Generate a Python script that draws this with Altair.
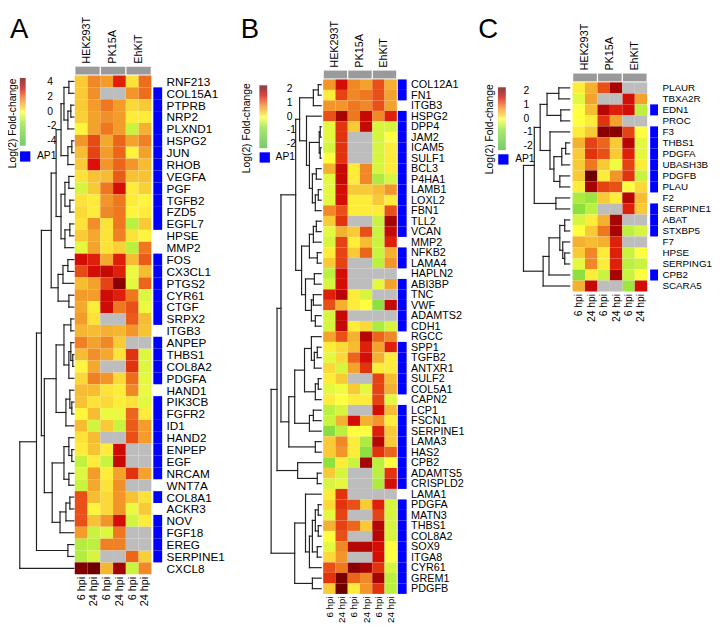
import json
import altair as alt
import pandas as pd

FONT = "Liberation Sans"
COLUMNS = ["6 hpi", "24 hpi", "6 hpi", "24 hpi", "6 hpi", "24 hpi"]
GROUPS = ["HEK293T", "PK15A", "EhKiT"]
LEGEND_TITLE = "Log(2) Fold-change"

# ---------------- Panel A ----------------
GENES_A = ["RNF213", "COL15A1", "PTPRB", "NRP2", "PLXND1", "HSPG2", "JUN", "RHOB", "VEGFA", "PGF",
           "TGFB2", "FZD5", "EGFL7", "HPSE", "MMP2", "FOS", "CX3CL1", "PTGS2", "CYR61", "CTGF",
           "SRPX2", "ITGB3", "ANPEP", "THBS1", "COL8A2", "PDGFA", "HAND1", "PIK3CB", "FGFR2", "ID1",
           "HAND2", "ENPEP", "EGF", "NRCAM", "WNT7A", "COL8A1", "ACKR3", "NOV", "FGF18", "EREG",
           "SERPINE1", "CXCL8"]
VALUES_A = [
    [0.6, 1.6, 1.3, 2.8, 0.3, 1.9], [0.6, 1.5, None, None, 1.4, 1.9], [0.6, 1.3, 1.8, 1.3, 0.4, 0.6],
    [0.5, 1.2, 1.5, 1.3, 0.2, 0.2], [0.1, 1.2, 1.8, 1.3, -0.8, 1.0], [1.4, 2.3, 1.1, 2.0, 1.2, 1.7],
    [0.8, 2.4, 1.3, 2.0, 0.1, 1.2], [0.6, 2.9, 1.4, 2.0, 1.4, 0.8], [0.3, 0.7, 0.8, 2.1, 0.7, 0.7],
    [-0.6, 0.6, 1.8, 3.0, 0.2, 0.5], [0.3, 0.2, 1.4, 1.8, 0.2, 0.1], [0.4, 0.2, 1.6, 1.8, 0.1, 0.2],
    [0.3, 1.5, 0.3, 1.8, -1.0, 0.6], [0.6, 1.1, 0.3, 1.7, 0.3, 0.1], [-0.4, 1.2, 0.3, 0.5, -1.0, 1.8],
    [3.0, 2.8, 1.1, 2.8, 0.8, 2.1], [2.3, 3.0, 3.2, 2.8, -0.3, 0.8], [0.8, 1.2, 2.4, 4.0, -0.4, 2.0],
    [1.3, 1.3, 3.1, 2.8, 1.8, -0.5], [1.1, 0.2, 3.1, 1.8, 2.2, -0.3], [1.3, 0.3, None, None, 2.1, 0.8],
    [0.9, 0.8, 1.0, 0.9, 1.4, 0.7], [1.7, 1.2, 1.6, 0.6, None, None], [0.8, 1.5, 1.1, 0.3, 2.6, -0.5],
    [0.1, 1.1, None, None, 2.6, -0.5], [0.4, 1.7, 1.4, 0.4, 1.9, -0.4], [0.8, 0.8, 0.3, 0.2, 1.6, -0.3],
    [0.7, 0.3, 0.4, 0.2, 0.3, -0.4], [0.1, 0.8, -0.3, -0.3, 2.0, 0.2], [0.8, -0.7, 0.6, -0.8, 2.1, 1.3],
    [0.3, 0.8, None, None, 2.2, 1.3], [0.2, 0.7, 0.2, 3.1, None, None], [-0.9, 0.2, -0.8, 3.2, None, None],
    [-0.5, 1.3, 0.2, 1.2, 2.6, 1.2], [-0.8, 1.1, 0.3, 1.5, None, None], [2.2, 0.8, 0.4, 1.4, 0.7, 0.3],
    [2.2, 0.1, 0.4, 1.4, -0.3, 0.6], [2.2, 0.7, 1.4, 3.0, -0.7, 0.2], [1.3, -0.8, -0.5, 1.8, None, None],
    [-1.1, -1.0, 1.7, 1.7, None, None], [-1.1, -0.6, None, None, 2.0, 0.5], [4.2, 4.6, 0.9, 3.7, -0.8, 1.6],
]
AP1_A = [0, 1, 1, 1, 1, 1, 1, 1, 1, 1, 1, 1, 1, 0, 0, 1, 1, 1, 1, 1, 1, 0, 1, 1, 1, 1, 0,
         1, 1, 1, 1, 1, 1, 1, 0, 1, 0, 1, 1, 1, 1, 0]
# dendrogram as (left, right, merge height); leaves are row indices
TREE_A = ((((((0, 1, 5), ((2, 3, 3), 4, 6), 10), ((5, 6, 2), 7, 6), 13),
             (((8, 9, 5), (10, 11, 4), 9), ((12, 13, 4), 14, 9), 13), 18),
            (((15, 16, 6), 17, 11), (18, 19, 5), 16), 23),
           ((((20, 21, 3), ((22, (23, 24, 1), 3), 25, 5), 10), ((26, (27, 28, 2), 4), 29, 8), 18),
            (((30, (31, 32, 2), 5), (33, 34, 5), 10), (((35, 36, 4), 37, 8), 38, 14), 22), 30), 33)
TREE_A = ((TREE_A, (39, 40, 6), 38), 41, 55)

# ---------------- Panel B ----------------
GENES_B = ["COL12A1", "FN1", "ITGB3", "HSPG2", "DPP4", "JAM2", "ICAM5", "SULF1", "BCL3", "P4HA1",
           "LAMB1", "LOXL2", "FBN1", "TLL2", "VCAN", "MMP2", "NFKB2", "LAMA4", "HAPLN2", "ABI3BP",
           "TNC", "VWF", "ADAMTS2", "CDH1", "RGCC", "SPP1", "TGFB2", "ANTXR1", "SULF2", "COL5A1",
           "CAPN2", "LCP1", "FSCN1", "SERPINE1", "LAMA3", "HAS2", "CPB2", "ADAMTS5", "CRISPLD2",
           "LAMA1", "PDGFA", "MATN3", "THBS1", "COL8A2", "SOX9", "ITGA8", "CYR61", "GREM1", "PDGFB"]
VALUES_B = [
    [0.7, 1.5, 0.8, 0.6, 1.1, 0.5], [0.1, 1.2, 0.8, 0.9, 1.1, 0.6], [0.7, 0.7, 0.9, 0.8, 1.1, 0.6],
    [1.1, 1.8, 0.9, 1.6, 0.8, 1.4], [-0.2, 1.3, 0.3, 1.6, -0.3, -0.3], [-0.2, 1.3, None, None, -0.3, 0.0],
    [-0.3, 1.3, None, None, -0.3, 0.1], [0.0, 1.3, None, None, -0.3, 0.1], [0.5, 1.6, 0.1, 0.8, -0.3, 0.1],
    [-0.2, 1.6, 0.1, 0.8, -0.6, -0.3], [-0.2, 1.5, 0.3, 0.3, 0.4, 0.7], [-0.2, 1.5, 0.1, 0.1, 0.3, 0.1],
    [0.8, 1.1, 0.1, 0.1, 0.1, 1.1], [0.3, 1.3, None, None, -0.4, 1.8], [-0.2, 0.5, 0.3, 1.1, -0.4, 1.6],
    [-0.3, 1.2, 0.1, 0.4, -0.4, 1.4], [0.1, 1.2, 0.3, 1.0, -0.4, 0.5], [0.3, 1.2, None, None, -0.5, 0.7],
    [-0.5, 1.5, None, None, None, None], [-0.3, 1.5, None, None, -0.2, 0.6], [1.4, 1.7, 0.1, -0.3, None, None],
    [1.1, 0.5, 0.1, 0.0, -0.8, 1.6], [-0.3, 1.6, None, None, None, None], [-0.3, 1.6, 0.1, 0.2, -0.6, -0.3],
    [0.6, 1.1, 0.5, 1.7, 1.0, 0.8], [0.1, 0.2, 0.4, 1.4, 0.6, 1.4], [-0.2, 0.2, 1.0, 1.5, 0.5, 0.1],
    [0.2, -0.3, 0.6, 1.3, 0.1, 0.1], [0.1, 0.3, None, None, 1.2, 0.4], [-0.2, -0.1, 0.3, -0.2, 1.2, 0.5],
    [0.1, 0.0, 0.1, 0.1, 1.2, -0.2], [-0.5, -0.3, None, None, 1.5, 0.4], [-0.4, 0.5, 1.5, 0.5, 0.7, 0.1],
    [-0.9, -0.5, 0.0, 0.0, 1.4, 0.3], [0.3, 0.8, 0.1, -0.6, 1.7, 0.3], [0.3, 0.7, 0.1, -0.8, 1.3, 1.0],
    [-0.8, 0.1, -0.4, 1.8, -0.5, 0.0], [0.3, -0.3, None, None, -0.5, 1.3], [-0.3, -0.2, None, None, -0.6, 1.5],
    [0.1, 1.3, None, None, None, None], [0.2, 1.3, 1.1, 0.3, 1.4, -0.3], [-0.2, 1.2, None, None, 1.2, -0.3],
    [0.5, 1.2, 1.0, 0.3, 1.7, -0.3], [0.0, 1.1, None, None, 1.7, -0.3], [-0.2, 0.8, 1.7, 1.7, 1.5, 0.0],
    [0.2, 0.7, None, None, 1.5, 0.0], [1.1, 0.9, 2.0, 1.8, 1.3, -0.3], [1.3, 2.2, 1.0, 0.8, 1.8, -0.5],
    [0.3, 2.3, 0.1, 0.7, 1.3, -0.5],
]
AP1_B = [1, 1, 0, 1, 1, 1, 1, 1, 1, 1, 1, 1, 1, 1, 1, 0, 1, 1, 0, 1, 1, 1, 1, 1, 0,
         1, 1, 1, 1, 1, 0, 1, 1, 1, 1, 1, 1, 1, 1, 0, 1, 1, 1, 1, 1, 1, 1, 1, 1]
_b_upper = ((((0, 1, 3), 2, 8),
             (3, (((4, 5, 1), (6, 7, 1), 2), ((8, 9, 5), ((10, 11, 3), 12, 6), 9), 12), 15), 22),
            ((((13, 14, 5), 15, 8), (16, 17, 4), 12),
             ((18, 19, 7), ((20, 21, 8), (22, 23, 6), 10), 16), 20), 26)
_b_mid = ((((24, ((25, 26, 4), 27, 7), 10), ((28, 29, 3), 30, 6), 17), ((31, 32, 8), 33, 12), 27),
          (34, 35, 6), 33)
_b_low = ((39, ((((40, 41, 3), (42, 43, 3), 6), (44, 45, 4), 9), 46, 12), 16), (47, 48, 9), 27)
TREE_B = (((_b_upper, _b_mid, 41), (36, (37, 38, 4), 24), 45), _b_low, 51)

# ---------------- Panel C ----------------
GENES_C = ["PLAUR", "TBXA2R", "EDN1", "PROC", "F3", "THBS1", "PDGFA", "UBASH3B", "PDGFB", "PLAU",
           "F2", "SERPINE1", "ABAT", "STXBP5", "F7", "HPSE", "SERPING1", "CPB2", "SCARA5"]
VALUES_C = [
    [0.1, 0.5, 1.1, 1.8, None, None], [-0.2, 0.6, None, None, 1.5, 0.6], [0.0, 0.4, 1.7, 1.4, 1.5, -0.5],
    [0.0, 0.1, 1.3, 0.6, None, None], [0.1, 0.3, 2.0, 2.0, 1.2, 0.0], [0.5, 1.2, 1.0, 0.3, 1.7, -0.2],
    [0.3, 1.3, 1.1, 0.3, 1.4, -0.2], [0.3, 0.9, 0.3, -0.1, 1.2, 0.1], [0.3, 2.3, 0.1, 0.7, 1.3, -0.4],
    [0.1, 1.8, 1.2, 1.1, 0.0, 0.2], [-0.6, -0.7, 0.3, 0.1, 1.7, 0.4], [-0.8, -0.5, None, None, 1.4, 0.3],
    [-0.3, 0.1, 0.5, 1.8, None, None], [0.0, 0.3, 0.9, 1.8, -0.5, -0.3], [0.5, 0.4, 0.5, 1.4, None, None],
    [0.3, 0.8, 0.1, 1.4, -0.4, 0.0], [-0.2, 0.8, 0.1, 1.4, -0.5, -0.4], [-0.8, 0.1, -0.4, 1.8, -0.4, 0.0],
    [0.5, 1.6, None, None, -0.7, 1.5],
]
AP1_C = [0, 0, 1, 0, 1, 1, 1, 1, 1, 1, 0, 1, 1, 1, 0, 0, 0, 1, 0]
TREE_C = (((((0, 1, 11), (2, 3, 9), 23), (4, (((5, 6, 4), 7, 8), (8, 9, 10), 16), 20), 30),
           (10, 11, 14), 36),
          ((((12, 13, 5), (14, (15, 16, 5), 7), 10), 17, 21), 18, 27), 47)

# colour scale (legend units of panels B/C; panel A uses twice these stops)
COLOR_STOPS = [-2.3, -0.8, -0.5, -0.2, 0, 0.25, 0.5, 0.8, 1.1, 1.45, 2.0, 2.3]
COLOR_RANGE = ["#4cb83c", "#8ee040", "#bcf040", "#e4f840", "#ffff40", "#f8d038",
               "#f4b030", "#f08828", "#e85018", "#dc1008", "#8a0000", "#700000"]


def dendro(tree, gap, cw):
    segs = []

    def rec(node):
        if isinstance(node, int):
            return node + 0.5, 0.0
        l, r, h = node
        yl, hl = rec(l)
        yr, hr = rec(r)
        segs.append(dict(x=hl, x2=h, y=yl, y2=yl))
        segs.append(dict(x=hr, x2=h, y=yr, y2=yr))
        segs.append(dict(x=h, x2=h, y=yl, y2=yr))
        return (yl + yr) / 2, h

    rec(tree)
    df = pd.DataFrame(segs)
    for c in ("x", "x2"):
        df[c] = -(gap + df[c]) / cw   # one pixel per height unit
    return df


def panel(letter, genes, values, ap1, tree, L):
    n = len(genes)
    cells = pd.DataFrame([dict(i=i, i2=i + 1, j=j, j2=j + 1, v=v)
                          for i, row in enumerate(values) for j, v in enumerate(row)])
    xs = alt.Scale(domain=[L["xmin"], L["xmax"]], nice=False, zero=False)
    ys = alt.Scale(domain=[L["ymin"], n], nice=False, zero=False, reverse=True)
    rh = L["H"] / (n - L["ymin"])
    ht = -L["ymin"] * rh
    k = L["unit"]
    cscale = alt.Scale(domain=[s * k for s in COLOR_STOPS], range=COLOR_RANGE, clamp=True)

    xaxis = alt.Axis(
        orient="bottom", values=[j + 0.5 for j in range(6)],
        labelExpr=json.dumps(COLUMNS) + "[floor(datum.value)]", labelAngle=-90,
        ticks=False, tickSize=0, domain=False, grid=False, title=None, labelFontSize=L["colfs"],
        labelPadding=2, labelOverlap=False, labelFlush=False, labelColor="black")
    yaxis = alt.Axis(
        orient="right", values=[i + 0.5 for i in range(n)],
        labelExpr=json.dumps(genes) + "[floor(datum.value)]",
        ticks=False, tickSize=0, domain=False, grid=False, title=None, labelFontSize=L["genefs"],
        labelPadding=4, labelOverlap=False, labelFlush=False, labelColor="black",
        labelBaseline="middle")

    colored = alt.Chart(cells).transform_filter("isValid(datum.v)").mark_rect().encode(
        x=alt.X("j:Q", scale=xs, axis=xaxis), x2="j2:Q",
        y=alt.Y("i:Q", scale=ys, axis=yaxis), y2="i2:Q",
        color=alt.Color("v:Q", scale=cscale, legend=alt.Legend(
            type="gradient", orient="none", legendX=L["lgx"], legendY=L["lgy"], direction="vertical",
            gradientLength=L["glen"], gradientThickness=L["gth"], gradientStrokeWidth=0,
            gradientOpacity=0.75, labelExpr="toString(datum.value)",
            title=None, values=[2 * k, k, 0, -k, -2 * k], labelFontSize=10.5, labelAlign="right",
            labelOffset=L["loff"], labelColor="black")),
    )
    grey = alt.Chart(cells).transform_filter("!isValid(datum.v)").mark_rect(
        color="#bdbdbd").encode(
        x=alt.X("j:Q", axis=xaxis), x2="j2:Q", y=alt.Y("i:Q", axis=yaxis), y2="i2:Q")

    apdf = pd.DataFrame({"i": range(n), "i2": range(1, n + 1),
                         "ap1": ["AP1" if f else None for f in ap1]})
    apdf = apdf[apdf["ap1"].notna()]
    aplayer = alt.Chart(apdf).mark_rect(strokeWidth=0).encode(
        x=alt.datum(L["ap0"], axis=xaxis), x2=alt.datum(L["ap1"]),
        y=alt.Y("i:Q", axis=yaxis), y2="i2:Q",
        fill=alt.Fill("ap1:N", scale=alt.Scale(domain=["AP1"], range=["#0000ff"]), legend=alt.Legend(
            orient="none", legendX=L["apx"], legendY=L["apy"], title=None, symbolType="square",
            symbolSize=110, symbolStrokeWidth=0, labelFontSize=10.5, labelOffset=L["apoff"],
            labelColor="black")),
    )

    dend = alt.Chart(dendro(tree, L["gap"], L["cw"])).mark_rule(
        color="#222222", strokeWidth=1.2, strokeCap="square").encode(
        x=alt.X("x:Q", axis=xaxis), x2="x2:Q", y=alt.Y("y:Q", axis=yaxis), y2="y2:Q")

    gdf = pd.DataFrame({"name": GROUPS, "s": [2 * g + 0.05 for g in range(3)],
                        "e": [2 * g + 1.95 for g in range(3)], "c": [2 * g + 1.0 for g in range(3)]})
    hdr = alt.Chart(gdf).mark_rect(color="#9a9a9a").encode(
        x=alt.X("s:Q", axis=xaxis), x2="e:Q", y=alt.value(ht - 9), y2=alt.value(ht - 1))
    htxt = alt.Chart(gdf).mark_text(angle=270, align="left", baseline="middle", fontSize=11,
                                     color="black").encode(
        x=alt.X("c:Q", axis=xaxis), y=alt.value(ht - 12), text="name:N")
    let = alt.Chart(pd.DataFrame({"t": [letter]})).mark_text(
        fontSize=28, align="left", baseline="top", color="black").encode(
        x=alt.value(L["letx"]), y=alt.value(-60), text="t:N")
    ltitle = alt.Chart(pd.DataFrame({"t": [LEGEND_TITLE]})).mark_text(
        fontSize=10.5, angle=270, align="right", baseline="middle", color="black").encode(
        x=alt.value(L["ltx"]), y=alt.value(L["lty"]), text="t:N")

    return alt.layer(colored, grey, aplayer, dend, hdr, htxt, let, ltitle).properties(
        width=L["W"], height=L["H"])


LAY_A = dict(xmin=(18 - 74) / 13, xmax=(163 - 74) / 13, W=145, H=508, ymin=0.0, unit=2.0, cw=13.0,
             gap=1.0, ap0=(154 - 74) / 13, ap1=(163 - 74) / 13, letx=-10, genefs=12, colfs=11,
             lgx=0, lgy=2.5, glen=69, gth=6, loff=22, apx=0, apy=77, apoff=6.5, ltx=-7, lty=3)
LAY_B = dict(xmin=(274 - 327) / 12.5, xmax=(412 - 327) / 12.5, W=138, H=528, ymin=-4 / 10.7, unit=1.0,
             cw=12.5, gap=2.0, ap0=(403 - 327) / 12.5, ap1=(412 - 327) / 12.5, letx=-31, genefs=11,
             colfs=10, lgx=-12, lgy=10, glen=64, gth=8, loff=20, apx=-12, apy=78, apoff=5.5,
             ltx=-25, lty=8)
CW_C = 76 / 6
LAY_C = dict(xmin=(523 - 581) / CW_C, xmax=(668 - 581) / CW_C, W=145, H=220, ymin=-7 / 11.2, unit=1.0,
             cw=CW_C, gap=3.0, ap0=(660 - 581) / CW_C, ap1=(668 - 581) / CW_C, letx=-38, genefs=10,
             colfs=10.5, lgx=-18, lgy=12, glen=64, gth=8, loff=18, apx=-18, apy=80, apoff=6.5,
             ltx=-26, lty=9)

pA = panel("A", GENES_A, VALUES_A, AP1_A, TREE_A, LAY_A)
pB = panel("B", GENES_B, VALUES_B, AP1_B, TREE_B, LAY_B)
pC = panel("C", GENES_C, VALUES_C, AP1_C, TREE_C, LAY_C)

chart = alt.hconcat(
    pA, pB, pC, spacing=111, bounds="flush",
    padding={"top": 3, "left": 0, "right": 0, "bottom": 0},
).resolve_scale(
    x="independent", y="independent", color="independent", fill="independent"
).resolve_legend(color="independent", fill="independent").configure(font=FONT).configure_view(stroke=None)

chart.save("out.html", embed_options={"renderer": "svg", "actions": False})
